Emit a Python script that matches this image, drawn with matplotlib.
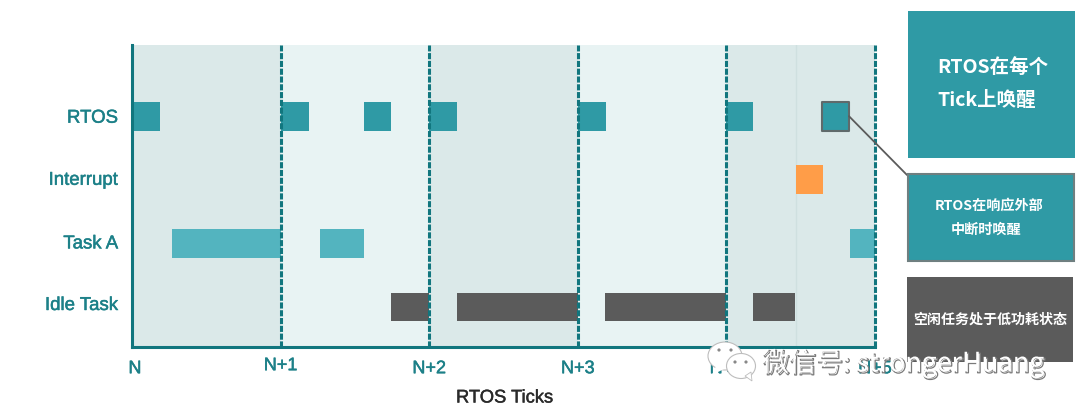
import matplotlib
matplotlib.use("Agg")
import matplotlib.pyplot as plt
from matplotlib.patches import Rectangle, Ellipse, Polygon, ConnectionPatch
from matplotlib.transforms import ScaledTranslation
import matplotlib.patheffects as pe

plt.rcParams['font.family'] = ['Liberation Sans', 'Noto Sans CJK SC', 'DejaVu Sans']

# ---- data ----
tasks = ["RTOS", "Interrupt", "Task A", "Idle Task"]
tick_labels = ["N", "N+1", "N+2", "N+3", "N+4", "N+5"]
rtos_spans = [(0, 0.19), (1, 0.19), (1.56, 0.185), (2, 0.185), (3, 0.19), (4, 0.18), (4.64, 0.185)]
interrupt_spans = [(4.47, 0.18)]
task_a_spans = [(0.27, 0.73), (1.265, 0.295), (4.83, 0.17)]
idle_spans = [(1.74, 0.26), (2.19, 0.81), (3.185, 0.815), (4.18, 0.285)]
side_notes = ["RTOS在每个\nTick上唤醒", "RTOS在响应外部\n中断时唤醒", "空闲任务处于低功耗状态"]
watermark = "微信号: strongerHuang"

TEAL = "#2f9aa5"
TEAL_LIGHT = "#53b4bf"
GREY = "#5b5b5b"
ORANGE = "#ff9d48"
AXIS = "#11767e"
LABEL = "#1c8088"
BAND_A = "#dbe9e9"
BAND_B = "#e8f3f3"

W, H = 1080, 413
fig = plt.figure(figsize=(W / 100, H / 100), dpi=100)
ax = fig.add_axes([132 / W, 1 - 347 / H, (875 - 132) / W, (347 - 45) / H])
ax.set_xlim(0, 5)
row_h = 63.6
ax.set_ylim(3 + (347 - 307) / row_h, 3 + (347 - 307) / row_h - (347 - 45) / row_h)

for i in range(5):
    ax.axvspan(i, i + 1, color=BAND_A if i % 2 == 0 else BAND_B, lw=0, zorder=0)
ax.axvline(4.47, color="#cfe0e0", lw=1, zorder=1)

bar_h = 0.45
ax.broken_barh(rtos_spans[:-1], (0 - bar_h / 2, bar_h), color=TEAL, lw=0, zorder=2)
ax.broken_barh(rtos_spans[-1:], (0 - bar_h / 2, bar_h), facecolor=TEAL, edgecolor="#5f6a6b", lw=1.5, zorder=2)
ax.broken_barh(interrupt_spans, (1 - bar_h / 2, bar_h), color=ORANGE, lw=0, zorder=2)
ax.broken_barh(task_a_spans, (2 - bar_h / 2, bar_h), color=TEAL_LIGHT, lw=0, zorder=2)
ax.broken_barh(idle_spans, (3 - bar_h / 2, bar_h), color=GREY, lw=0, zorder=2)

for x in range(1, 6):
    ax.axvline(x, color=AXIS, lw=2.2, ls=(0, (2.0, 0.55)), zorder=3, clip_on=False)

for s in ("top", "right"):
    ax.spines[s].set_visible(False)
for s in ("left", "bottom"):
    ax.spines[s].set_color(AXIS)
    ax.spines[s].set_linewidth(2.2)
    ax.spines[s].set_zorder(4)

ax.set_yticks(range(4), tasks)
ax.set_xticks(range(6), tick_labels)
ax.tick_params(axis="both", length=0)
ax.tick_params(axis="y", pad=10.2, labelcolor=LABEL, labelsize=13.4)
ax.tick_params(axis="x", pad=9.5, labelcolor=LABEL, labelsize=13)
thick = [pe.withStroke(linewidth=0.35, foreground=LABEL)]
labels = ax.get_xticklabels()
labels[0].set_transform(labels[0].get_transform() + ScaledTranslation(3 / 100, 0, fig.dpi_scale_trans))
labels[1].set_transform(labels[1].get_transform() + ScaledTranslation(0, 3 / 100, fig.dpi_scale_trans))
ylabels = ax.get_yticklabels()
for lab, dy in zip(ylabels, (0, 1.5, 1.5, 3.5)):
    lab.set_transform(lab.get_transform() + ScaledTranslation(0, dy / 100, fig.dpi_scale_trans))
for lab in list(labels) + list(ylabels):
    lab.set_path_effects(thick)
ax.set_xlabel("RTOS Ticks", fontsize=13.2, color="#2a2a2a", labelpad=0,
              path_effects=[pe.withStroke(linewidth=0.3, foreground="#2a2a2a")])
ax.xaxis.set_label_coords((504.5 - 132) / (875 - 132), -(398 - 347) / (347 - 45), transform=ax.transAxes)
ax.xaxis.label.set_va("center")

# overlay in pixel coordinates for the side panels and the watermark
ov = fig.add_axes([0, 0, 1, 1], zorder=10)
ov.set_xlim(0, W)
ov.set_ylim(H, 0)
ov.axis("off")
ov.patch.set_alpha(0)

ov.add_patch(Rectangle((908, 11), 167, 147, fc=TEAL, ec="none"))
ov.add_patch(Rectangle((907.5, 173.5), 166, 87, fc=TEAL, ec="#6f7f80", lw=1.5))
ov.add_patch(Rectangle((907, 277), 166, 85, fc=GREY, ec="none"))

cjk = ['Noto Sans CJK SC']
n1 = side_notes[0].split("\n")
ov.text(937, 67, n1[0], color="white", fontsize=14, fontweight="bold", va="center", ha="left", family=cjk)
ov.text(937, 101, n1[1], color="white", fontsize=14, fontweight="bold", va="center", ha="left", family=cjk)
n2 = side_notes[1].split("\n")
ov.text(989, 206, n2[0], color="white", fontsize=10.2, fontweight="bold", va="center", ha="center", family=cjk)
ov.text(986, 230, n2[1], color="white", fontsize=10.2, fontweight="bold", va="center", ha="center", family=cjk)
ov.text(990, 320, side_notes[2], color="white", fontsize=10.1, fontweight="bold", va="center", ha="center", family=cjk)

# leader line from the last RTOS block to its note
x0, w0 = rtos_spans[-1]
con = ConnectionPatch(xyA=(x0 + w0, 0), coordsA=ax.transData,
                      xyB=(907, 175), coordsB=ov.transData, color=GREY, lw=1.3, zorder=5)
fig.add_artist(con)

# watermark
bub = dict(fc="white", ec="#bdbdbd", lw=0.8)
ov.add_patch(Ellipse((725, 356), 34, 28, **bub))
ov.add_patch(Polygon([(716, 366), (712, 375), (724, 369)], closed=True, fc="white", ec="none"))
ov.add_patch(Ellipse((741, 366), 29, 25, **bub))
ov.add_patch(Polygon([(745, 376), (752, 381), (751, 372)], closed=True, fc="white", ec="#bdbdbd", lw=0.6))
for ex, ey in [(719, 350), (731, 350), (735, 362), (746, 362)]:
    ov.add_patch(Ellipse((ex, ey), 3.2, 3.2, fc="#888888", ec="none"))
ov.text(762, 363, watermark, color="white", fontsize=19.3, va="center", ha="left", family=cjk,
        path_effects=[pe.Stroke(linewidth=0.9, foreground="#7a7a7a", offset=(1, -1)),
                      pe.Normal()])

fig.savefig("out.png", dpi=100, facecolor="white")
